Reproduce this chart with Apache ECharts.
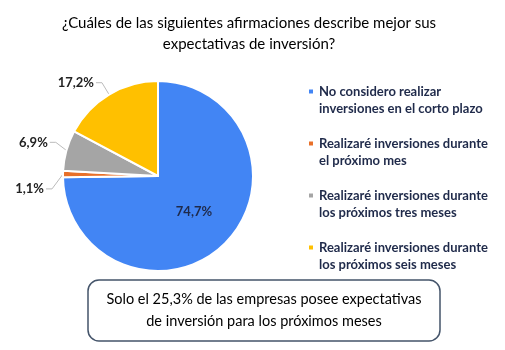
<!DOCTYPE html>
<html>
<head>
<meta charset="utf-8">
<script src="https://cdn.jsdelivr.net/npm/echarts@6/dist/echarts.min.js"></script>
<style>
html,body{margin:0;padding:0;background:#fff;}
#c{width:505px;height:350px;}
</style>
</head>
<body>
<div id="c"></div>
<script>
const titleLines = ['¿Cuáles de las siguientes afirmaciones describe mejor sus', 'expectativas de inversión?'];
const categories = [
  'No considero realizar\ninversiones en el corto plazo',
  'Realizaré inversiones durante\nel próximo mes',
  'Realizaré inversiones durante\nlos próximos tres meses',
  'Realizaré inversiones durante\nlos próximos seis meses'
];
const values = [74.7, 1.1, 6.9, 17.2];
const colors = ['#4285F4', '#E8702A', '#A5A5A5', '#FFC000'];
const noteLines = ['Solo el 25,3% de las empresas posee expectativas', 'de inversión para los próximos meses'];

const FONT = 'Lato, "Open Sans", sans-serif';
const fmt = v => v.toFixed(1).replace('.', ',') + '%';
const labelShift = [0, 15, -6, -5];

const chart = echarts.init(document.getElementById('c'), null, {renderer: 'canvas'});
const data = categories.map((name, i) => {
  const d = {name: name, value: values[i], itemStyle: {color: colors[i]}};
  if (i === 0) {
    d.label = {position: 'inside', color: '#1F2A4A', fontSize: 13, fontWeight: 'bold'};
  }
  return d;
});

function layoutLabel(p) {
  const dy = labelShift[p.dataIndex];
  if (!dy) return {};
  let lay = null;
  try {
    lay = chart.getModel().getSeriesByIndex(0).getData().getItemLayout(p.dataIndex);
  } catch (e) { lay = null; }
  const r = p.labelRect;
  if (!lay || !r) return {dy: dy};
  const mid = (lay.startAngle + lay.endAngle) / 2;
  const ex = lay.cx + lay.r * Math.cos(mid);
  const ey = lay.cy + lay.r * Math.sin(mid);
  const ly = r.y + r.height / 2 + dy;
  const lx = r.x + r.width + 2;
  return {dy: dy, labelLinePoints: [[ex, ey], [lx + 6, ly], [lx, ly]]};
}

chart.setOption({
  animation: false,
  title: {
    text: titleLines.join('\n'),
    left: 244, top: 8, textAlign: 'center',
    textStyle: {fontFamily: FONT, fontSize: 15, fontWeight: 'normal', color: '#000', lineHeight: 21}
  },
  legend: {
    orient: 'vertical',
    left: 302, top: 78,
    itemWidth: 6, itemHeight: 23, itemGap: 18,
    icon: 'path://M0,0h6v6h-6z M0,23h0.01v0.01h-0.01z',
    textStyle: {fontFamily: FONT, fontSize: 13, fontWeight: 'bold', color: '#1F2A4A', lineHeight: 17},
    data: categories
  },
  series: [{
    type: 'pie',
    center: [158, 176],
    radius: [0, 95],
    startAngle: 90,
    clockwise: true,
    avoidLabelOverlap: true,
    itemStyle: {borderColor: '#fff', borderWidth: 2},
    label: {
      show: true,
      formatter: p => fmt(p.value),
      fontFamily: FONT, fontSize: 13, fontWeight: 'bold', color: '#222',
      position: 'outside'
    },
    labelLine: {show: true, length: 8, length2: 6, lineStyle: {color: '#bbb', width: 1}},
    labelLayout: layoutLabel,
    emphasis: {disabled: true},
    data: data
  }],
  graphic: [
    {type: 'rect', shape: {x: 88, y: 280, width: 352, height: 61, r: 11},
     style: {fill: '#fff', stroke: '#44546A', lineWidth: 1.5}},
    {type: 'text', x: 264, y: 310,
     style: {text: noteLines.join('\n'), align: 'center', verticalAlign: 'middle',
       font: '14.5px ' + FONT, fill: '#000', lineHeight: 22}}
  ]
});
</script>
</body>
</html>
